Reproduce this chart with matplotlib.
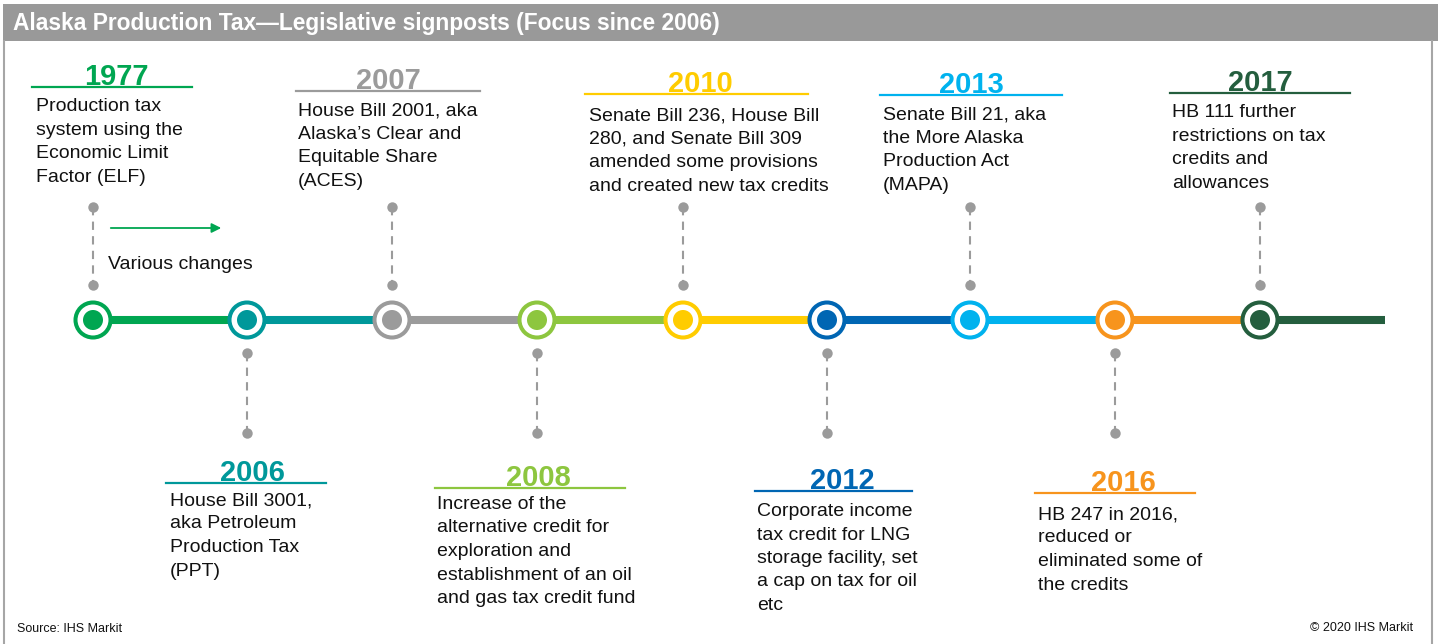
import matplotlib.pyplot as plt
from matplotlib.patches import Circle, Rectangle

plt.rcParams['font.family'] = ['Liberation Sans', 'DejaVu Sans']

# Data
YEARS = ['1977', '2006', '2007', '2008', '2010', '2012', '2013', '2016', '2017']
NOTES = [
    'Production tax\nsystem using the\nEconomic Limit\nFactor (ELF)',
    'House Bill 3001,\naka Petroleum\nProduction Tax\n(PPT)',
    'House Bill 2001, aka\nAlaska\u2019s Clear and\nEquitable Share\n(ACES)',
    'Increase of the\nalternative credit for\nexploration and\nestablishment of an oil\nand gas tax credit fund',
    'Senate Bill 236, House Bill\n280, and Senate Bill 309\namended some provisions\nand created new tax credits',
    'Corporate income\ntax credit for LNG\nstorage facility, set\na cap on tax for oil\netc',
    'Senate Bill 21, aka\nthe More Alaska\nProduction Act\n(MAPA)',
    'HB 247 in 2016,\nreduced or\neliminated some of\nthe credits',
    'HB 111 further\nrestrictions on tax\ncredits and\nallowances',
]
TITLE = 'Alaska Production Tax\u2014Legislative signposts (Focus since 2006)'

# Styles
COLORS = ['#00A651', '#00989A', '#9B9B9B', '#8DC63F', '#FFCC00',
          '#0066B3', '#00B2EE', '#F7941D', '#245E3E']
GREY = '#9B9B9B'
TEXT = '#111111'

# Layout (pixel coords)
W, H = 1438, 644
LINE_Y = 320
LINE_END = 1385
NODE_X = [93, 247, 392, 537, 683, 827, 970, 1115, 1260]
# year centre x, underline x0, x1, y, note x, note top y
LAYOUT = [
    (116, 32, 192, 87, 36, 98),
    (252, 166, 326, 483, 170, 492),
    (388, 296, 480, 91, 298, 102),
    (538, 435, 625, 488, 437, 496),
    (700, 585, 808, 94, 589, 107),
    (842, 755, 912, 491, 757, 503),
    (971, 880, 1062, 95, 883, 106),
    (1123, 1035, 1195, 493, 1038, 506),
    (1260, 1170, 1350, 93, 1172, 104),
]

fig = plt.figure(figsize=(W / 100, H / 100), dpi=100)
ax = fig.add_axes([0, 0, 1, 1])
ax.set_xlim(0, W)
ax.set_ylim(H, 0)
ax.axis('off')

# frame + title bar
ax.add_patch(Rectangle((3, 4), W - 3, 37, facecolor='#999999', edgecolor='none'))
ax.plot([3.5, 3.5], [41, H], color='#A6A6A6', lw=1.5)
ax.plot([1432, 1432], [41, H], color='#A6A6A6', lw=1.5)
ax.text(13, 23, TITLE, color='white', fontsize=16.4, fontweight='bold',
        ha='left', va='center')

# timeline segments
for i, x in enumerate(NODE_X):
    x2 = NODE_X[i + 1] if i + 1 < len(NODE_X) else LINE_END
    ax.plot([x, x2], [LINE_Y, LINE_Y], color=COLORS[i], lw=5.8,
            solid_capstyle='butt', zorder=2)

for i, (year, note) in enumerate(zip(YEARS, NOTES)):
    x = NODE_X[i]
    c = COLORS[i]
    above = i % 2 == 0
    # node
    ax.add_patch(Circle((x, LINE_Y), 17.5, facecolor='white', edgecolor=c,
                        lw=2.9, zorder=3))
    ax.add_patch(Circle((x, LINE_Y), 10, facecolor=c, edgecolor='none', zorder=4))
    # dashed connector
    y0, y1 = (207, 285) if above else (353, 433)
    ax.plot([x, x], [y0, y1], color=GREY, lw=1.5, ls=(0, (4, 3)), zorder=1)
    ax.plot([x, x], [y0, y1], 'o', color=GREY, ms=7.5, mec='none', zorder=1)
    # label
    yc, lx0, lx1, ly, nx, ny = LAYOUT[i]
    ax.plot([lx0, lx1], [ly, ly], color=c, lw=1.6)
    ax.text(yc, ly - 2.5, year, color=c, fontsize=21, fontweight='bold',
            ha='center', va='baseline')
    ax.text(nx, ny, note, color=TEXT, fontsize=14, ha='left', va='top',
            linespacing=1.5)

# "various changes" arrow
ax.annotate('', xy=(224, 228), xytext=(108, 228),
            arrowprops=dict(arrowstyle='-|>', color=COLORS[0], lw=1.3,
                            mutation_scale=14))
ax.text(108, 264, 'Various changes', color=TEXT, fontsize=14,
        ha='left', va='center')

# footer
ax.text(17, 629, 'Source: IHS Markit', color=TEXT, fontsize=9,
        ha='left', va='center')
ax.text(1413, 628, '\u00a9 2020 IHS Markit', color=TEXT, fontsize=9,
        ha='right', va='center')

fig.savefig('out.png', dpi=100, facecolor='white')
